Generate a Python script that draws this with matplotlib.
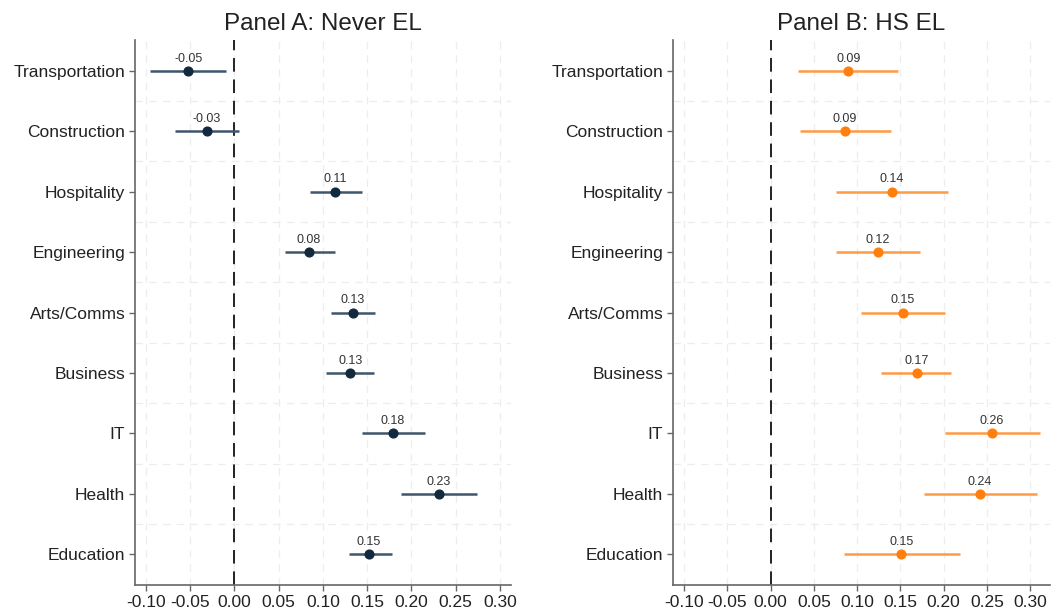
import numpy as np
import matplotlib
matplotlib.use("Agg")
import matplotlib.pyplot as plt

plt.rcParams['font.family'] = ['Liberation Sans', 'DejaVu Sans']

# Occupation categories, top to bottom
occupations = ["Transportation", "Construction", "Hospitality", "Engineering",
               "Arts/Comms", "Business", "IT", "Health", "Education"]

# Panel A: Never EL (point estimates and 95% CI bounds)
never_est = [-0.052, -0.031, 0.114, 0.084, 0.134, 0.131, 0.179, 0.231, 0.152]
never_lo = [-0.095, -0.067, 0.085, 0.057, 0.109, 0.104, 0.144, 0.188, 0.129]
never_hi = [-0.009, 0.005, 0.144, 0.114, 0.159, 0.158, 0.215, 0.274, 0.178]

# Panel B: HS EL
hs_est = [0.090, 0.086, 0.140, 0.124, 0.153, 0.169, 0.256, 0.242, 0.151]
hs_lo = [0.032, 0.034, 0.075, 0.076, 0.105, 0.128, 0.202, 0.177, 0.085]
hs_hi = [0.147, 0.139, 0.205, 0.173, 0.202, 0.209, 0.312, 0.308, 0.219]

xticks = [-0.10, -0.05, 0.00, 0.05, 0.10, 0.15, 0.20, 0.25, 0.30]

fig = plt.figure(figsize=(10.51, 6.16), dpi=100)
ax_a = fig.add_axes([0.1285, 0.0503, 0.3578, 0.8847])
ax_b = fig.add_axes([0.6403, 0.0503, 0.3587, 0.8847])

panels = [
    (ax_a, "Panel A: Never EL", never_est, never_lo, never_hi,
     "#13293d", "#3e556c", (-0.112, 0.3125)),
    (ax_b, "Panel B: HS EL", hs_est, hs_lo, hs_hi,
     "#ff7f0e", "#ff9a45", (-0.113, 0.323)),
]

ypos = np.arange(1, len(occupations) + 1)

for ax, title, est, lo, hi, mcol, lcol, xlim in panels:
    est = np.array(est)
    lo = np.array(lo)
    hi = np.array(hi)

    # light dashed grid
    for xt in xticks:
        ax.axvline(xt, color="#ededed", lw=0.9, ls=(0, (6, 5)), zorder=0)
    for yg in ypos[:-1] + 0.5:
        ax.axhline(yg, color="#ededed", lw=0.9, ls=(0, (6, 5)), zorder=0)

    ax.axvline(0, color="#222222", lw=1.4, ls=(0, (7, 4)), zorder=1)

    ax.hlines(ypos, lo, hi, color=lcol, lw=1.8, zorder=2)
    ax.plot(est, ypos, "o", color=mcol, ms=6.3, zorder=3)
    for y, v in zip(ypos, est):
        ax.annotate(f"{v:.2f}", (v, y), xytext=(0, 4.5), textcoords="offset points",
                    ha="center", va="bottom", fontsize=9, color="#333333")

    ax.set_xlim(*xlim)
    ax.set_ylim(9.51, 0.49)
    ax.set_xticks(xticks)
    ax.set_xticklabels([f"{t:.2f}" for t in xticks], fontsize=12.5, color="#222222")
    ax.set_yticks(ypos)
    ax.set_yticklabels(occupations, fontsize=12.5, color="#222222")
    ax.set_title(title, fontsize=17.5, color="#222222", pad=7)

    for side in ["top", "right"]:
        ax.spines[side].set_visible(False)
    for side in ["left", "bottom"]:
        ax.spines[side].set_color("#666666")
        ax.spines[side].set_linewidth(1.2)
    ax.tick_params(axis="both", direction="out", length=4, width=1, color="#666666", pad=3)

fig.savefig("out.png", dpi=100, facecolor="white")
